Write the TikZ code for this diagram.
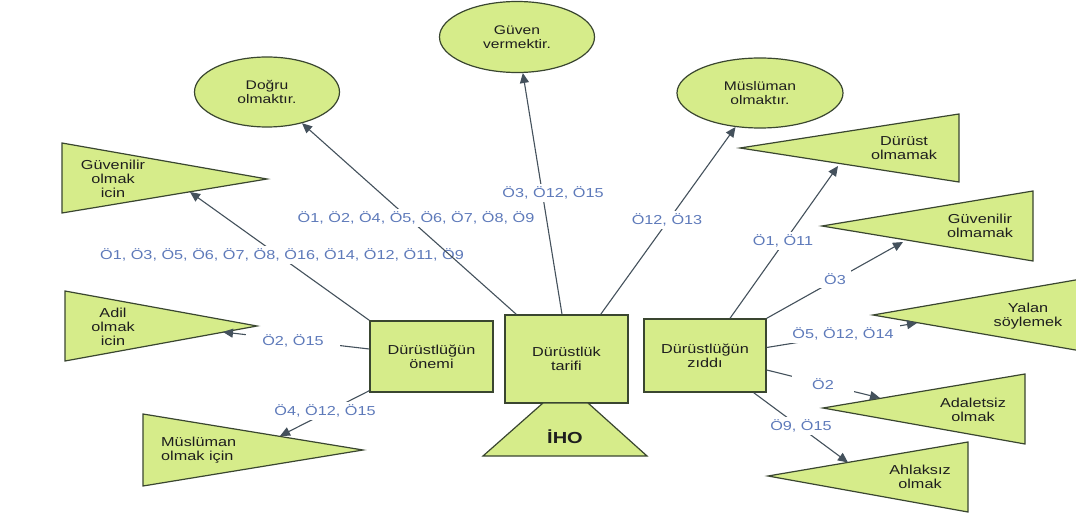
\documentclass[tikz,border=0pt]{standalone}
\usepackage{fontspec}
\setmainfont[FakeStretch=1.25]{Liberation Sans}
\usetikzlibrary{shapes.geometric,arrows.meta,calc}
\definecolor{leaf}{HTML}{D6EC8A}
\definecolor{rim}{HTML}{3A4630}
\definecolor{wire}{HTML}{44515C}
\definecolor{tagblue}{HTML}{5E7ABA}
\definecolor{ink}{HTML}{1E1E1E}

\begin{document}
\begin{tikzpicture}[x=1pt,y=-1pt,
  every node/.style={font=\fontsize{13}{14}\selectfont, text=ink},
  box/.style={draw=rim, fill=leaf, line width=1.4pt, inner sep=0pt, align=center},
  oval/.style={ellipse, draw=rim, fill=leaf, line width=1.2pt, inner sep=0pt, align=center,
               font=\fontsize{12.5}{13.5}\selectfont},
  tri/.style={draw=rim, fill=leaf, line width=1.2pt, line join=miter},
  tritext/.style={align=center, inner sep=0pt},
  arr/.style={draw=wire, line width=1.1pt, -{Triangle[length=10pt,width=9pt]}},
  tag/.style={text=tagblue, fill=white, inner xsep=3pt, inner ysep=3pt}]

% canvas
\useasboundingbox (0,0) rectangle (1076,516);
\fill[white] (0,0) rectangle (1076,516);
\clip (0,0) rectangle (1076,516);

% ---------- central boxes ----------
\node[box, minimum width=123pt, minimum height=88pt] (tarifi) at (566.5,359) {Dürüstlük\\tarifi};
\node[box, minimum width=123pt, minimum height=71pt] (onemi)  at (431.5,356.5) {Dürüstlüğün\\önemi};
\node[box, minimum width=122pt, minimum height=73pt] (ziddi)  at (705,355.5) {Dürüstlüğün\\zıddı};

% trapezoid under the definition box
\draw[tri] (543,403) -- (588,403) -- (647,456) -- (483,456) -- cycle;
\node[font=\fontsize{16}{18}\selectfont\bfseries] (iho) at (565,437) {İHO};

% ---------- definitions (ellipses) ----------
\node[oval, minimum width=145pt, minimum height=70pt] (dogru)    at (267,92)  {Doğru\\olmaktır.};
\node[oval, minimum width=155pt, minimum height=71pt] (guven)    at (517,37)  {Güven\\vermektir.};
\node[oval, minimum width=166pt, minimum height=70pt] (musluman) at (760,93)  {Müslüman\\olmaktır.};

% ---------- importance (triangles pointing right) ----------
\draw[tri] (62,143) -- (267,179) -- (62,213) -- cycle;
\node[tritext] (guvenilir) at (113,179) {Güvenilir\\olmak\\icin};
\draw[tri] (65,291) -- (257,326) -- (65,361) -- cycle;
\node[tritext] (adil) at (113,327) {Adil\\olmak\\icin};
\draw[tri] (143,414) -- (363,450) -- (143,486) -- cycle;
\node[tritext, align=left, anchor=west] (muslumanicin) at (161,450.5) {Müslüman\\olmak için};

% ---------- opposites (triangles pointing left) ----------
\draw[tri] (740,148) -- (959,114) -- (959,182) -- cycle;
\node[tritext] (durustdegil) at (904,148) {Dürüst\\olmamak};
\draw[tri] (822,226) -- (1033,191) -- (1033,261) -- cycle;
\node[tritext] (guvenilirdegil) at (980,226) {Güvenilir\\olmamak};
\draw[tri] (873,315) -- (1090,277.5) -- (1090,352.5) -- cycle;
\node[tritext] (yalan) at (1028,316.5) {Yalan\\söylemek};
\draw[tri] (823,408) -- (1025,374) -- (1025,444) -- cycle;
\node[tritext] (adaletsiz) at (973,409.5) {Adaletsiz\\olmak};
\draw[tri] (768,476) -- (968,442) -- (968,512) -- cycle;
\node[tritext] (ahlaksiz) at (920,476.5) {Ahlaksız\\olmak};

% arrow heads land on the triangle edges
\coordinate (inGuvenilir) at (190,192);
\coordinate (inAdil) at (223,332);
\coordinate (inMusluman) at (280,436);
\coordinate (inDurust) at (838,166);
\coordinate (inGuvDegil) at (903,242);
\coordinate (inYalan) at (917,323);
\coordinate (inAdalet) at (880,398);
\coordinate (inAhlak) at (848,462.5);

% ---------- connectors ----------
\draw[arr] (onemi.north west) -- (inGuvenilir);
\node[tag] (t1) at (282,255) {Ö1, Ö3, Ö5, Ö6, Ö7, Ö8, Ö16, Ö14, Ö12, Ö11, Ö9};

\draw[arr] ([xshift=12pt]tarifi.north west) -- (dogru);
\draw[arr] ([xshift=-4.5pt]tarifi.north) -- (guven);
\draw[arr] ([xshift=-28pt]tarifi.north east) -- (musluman);
\node[tag] (t2) at (416,218) {Ö1, Ö2, Ö4, Ö5, Ö6, Ö7, Ö8, Ö9};
\node[tag] (t3) at (553,193) {Ö3, Ö12, Ö15};
\node[tag] (t4) at (667,220) {Ö12, Ö13};

\draw[arr] ([yshift=7.5pt]onemi.west) -- (inAdil);
\node[tag, inner xsep=16pt] (t5) at (293,341) {Ö2, Ö15};
\draw[arr] ([yshift=2pt]onemi.south west) -- (inMusluman);
\node[tag] (t6) at (325,411) {Ö4, Ö12, Ö15};

\draw[arr] ([xshift=25pt]ziddi.north) -- (inDurust);
\node[tag] (t7) at (783,241) {Ö1, Ö11};
\draw[arr] (ziddi.north east) -- (inGuvDegil);
\node[tag, inner xsep=5pt] (t8) at (835,279) {Ö3};
\draw[arr] ([yshift=8pt]ziddi.east) -- (inYalan);
\node[tag, inner xsep=6pt] (t9) at (843,334) {Ö5, Ö12, Ö14};
\draw[arr] ([yshift=-14.5pt]ziddi.east) -- (inAdalet);
\node[tag, inner xsep=20pt] (t10) at (823,384) {Ö2};
\draw[arr] ([xshift=-13pt]ziddi.south east) -- (inAhlak);
\node[tag] (t11) at (801,426) {Ö9, Ö15};

\end{tikzpicture}
\end{document}
